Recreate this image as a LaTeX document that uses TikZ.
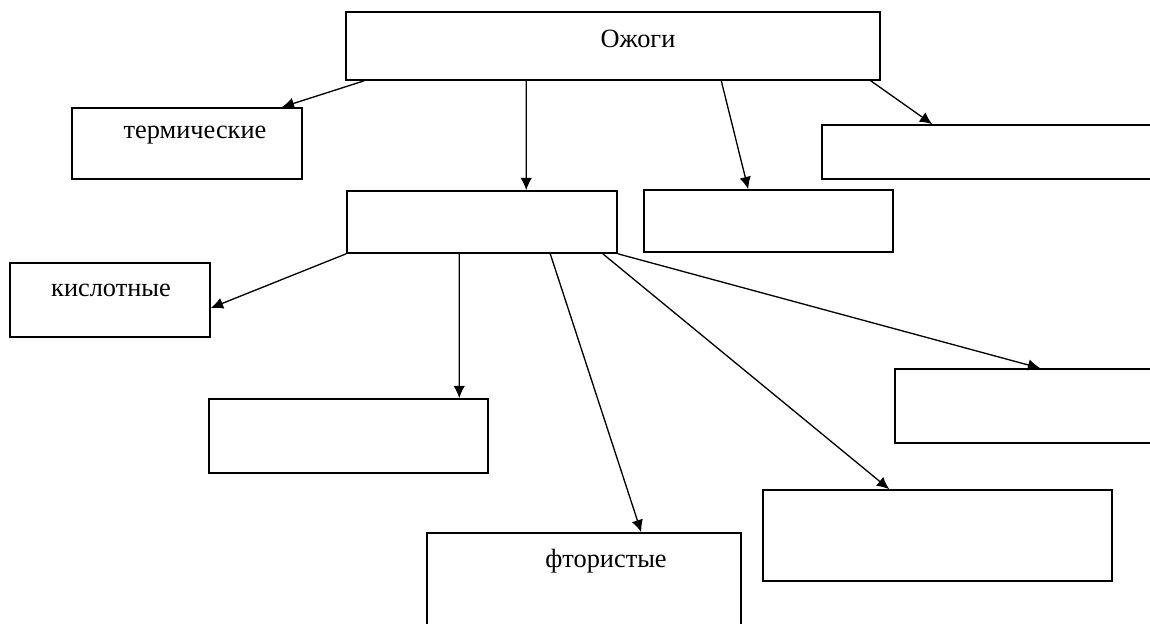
\documentclass[tikz,border=0pt]{standalone}
\usepackage{fontspec}
\setmainfont{Liberation Serif}
\usetikzlibrary{calc,arrows.meta}
\begin{document}
\begin{tikzpicture}[x=0.02cm,y=-0.02cm,
    box/.style={draw,line width=0.9pt,inner sep=0pt},
    lbl/.style={inner sep=0pt,font=\fontsize{15}{18}\selectfont},
    arr/.style={line width=0.75pt,-{Latex[length=7pt,width=6.5pt]}}]
      \clip (0,0) rectangle (1150,624);
      \fill[white] (0,0) rectangle (1150,624);
      % boxes
      \node[box,minimum width=10.68cm,minimum height=1.36cm] (ozhogi) at (613,46) {};
      \node[box,minimum width=4.6cm,minimum height=1.42cm] (termich) at (187,143.5) {};
      \node[box,minimum width=6.86cm,minimum height=1.08cm] (boxR1) at (993.5,152) {};
      \node[box,minimum width=5.4cm,minimum height=1.24cm] (mid) at (482,222) {};
      \node[box,minimum width=4.98cm,minimum height=1.24cm] (boxC) at (768.5,221) {};
      \node[box,minimum width=4cm,minimum height=1.48cm] (kislot) at (110,300) {};
      \node[box,minimum width=5.58cm,minimum height=1.48cm] (boxL) at (348.5,436) {};
      \node[box,minimum width=5.4cm,minimum height=1.48cm] (boxR2) at (1030,406) {};
      \node[box,minimum width=6.98cm,minimum height=1.82cm] (boxB) at (937.5,535.5) {};
      \node[box,minimum width=6.28cm,minimum height=2.14cm] (ftor) at (584,586.5) {};
      % texts
      \node[lbl] (tOzhogi) at (638,39) {Ожоги};
      \node[lbl] (tTermich) at (195,135) {термические};
      \node[lbl] (tKislot) at (111,290) {кислотные};
      \node[lbl] (tFtor) at (606,561) {фтористые};
      % arrows
      \draw[arr] ($(ozhogi.south west)+(19,0)$) -- ($(termich.north east)+(-21,0)$);
      \draw[arr] ($(ozhogi.south west)+(181,0)$) -- ($(mid.north west)+(180,0)$);
      \draw[arr] ($(ozhogi.south west)+(376,0)$) -- ($(boxC.north west)+(105,0)$);
      \draw[arr] ($(ozhogi.south east)+(-10,0)$) -- ($(boxR1.north west)+(111,0)$);
      \draw[arr] (mid.south west) -- ($(kislot.east)+(0,8)$);
      \draw[arr] ($(mid.south west)+(113,0)$) -- ($(boxL.north west)+(251,0)$);
      \draw[arr] ($(mid.south west)+(204,0)$) -- ($(ftor.north west)+(215,0)$);
      \draw[arr] ($(mid.south east)+(-15,0)$) -- ($(boxB.north west)+(127,0)$);
      \draw[arr] (mid.south east) -- ($(boxR2.north west)+(146,0)$);
\end{tikzpicture}
\end{document}
